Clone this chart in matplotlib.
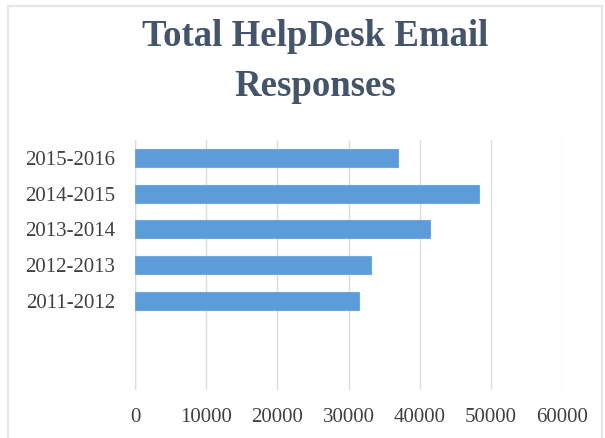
import matplotlib
matplotlib.use("Agg")
import matplotlib.pyplot as plt
from matplotlib.patches import Rectangle

# data
years = ["2011-2012", "2012-2013", "2013-2014", "2014-2015", "2015-2016"]
responses = [31500, 33100, 41400, 48300, 37000]
xticks = [0, 10000, 20000, 30000, 40000, 50000, 60000]

fig = plt.figure(figsize=(6.05, 4.38), dpi=100)
ax = fig.add_axes([135 / 605, 1 - 390 / 438, (562 - 135) / 605, (390 - 140) / 438])

ax.barh(range(len(years)), responses, height=0.5, color="#5C9CD8",
        edgecolor="#6FA8DE", linewidth=0.8, zorder=3)

ax.set_xlim(0, 60000)
ax.set_ylim(-2.5, 4.5)
ax.set_xticks(xticks)
ax.set_xticklabels([str(t) for t in xticks])
ax.set_yticks(range(len(years)))
ax.set_yticklabels(years)
ax.grid(axis="x", color="#DCDCDC", linewidth=1, zorder=0)
ax.axvline(0, color="#DCDCDC", linewidth=1, zorder=0)
for s in ax.spines.values():
    s.set_visible(False)
ax.tick_params(length=0, labelsize=15, labelcolor="#404040")
ax.tick_params(axis="x", pad=13)
ax.tick_params(axis="y", pad=14)
for lab in ax.get_xticklabels() + ax.get_yticklabels():
    lab.set_fontfamily("Liberation Serif")

fig.text(315 / 605, 1 - 46 / 438, "Total HelpDesk Email", ha="center",
         va="baseline", fontsize=26.5, fontweight="bold",
         family="Liberation Serif", color="#44546A")
fig.text(315 / 605, 1 - 96 / 438, "Responses", ha="center",
         va="baseline", fontsize=26.5, fontweight="bold",
         family="Liberation Serif", color="#44546A")

# light chart-area border
fig.patches.append(Rectangle((8 / 605, -0.01), 594 / 605, 1 - 6 / 438 + 0.01,
                             transform=fig.transFigure, fill=False,
                             edgecolor="#E6E6E6", linewidth=1.5))

fig.savefig("out.png", dpi=100)
